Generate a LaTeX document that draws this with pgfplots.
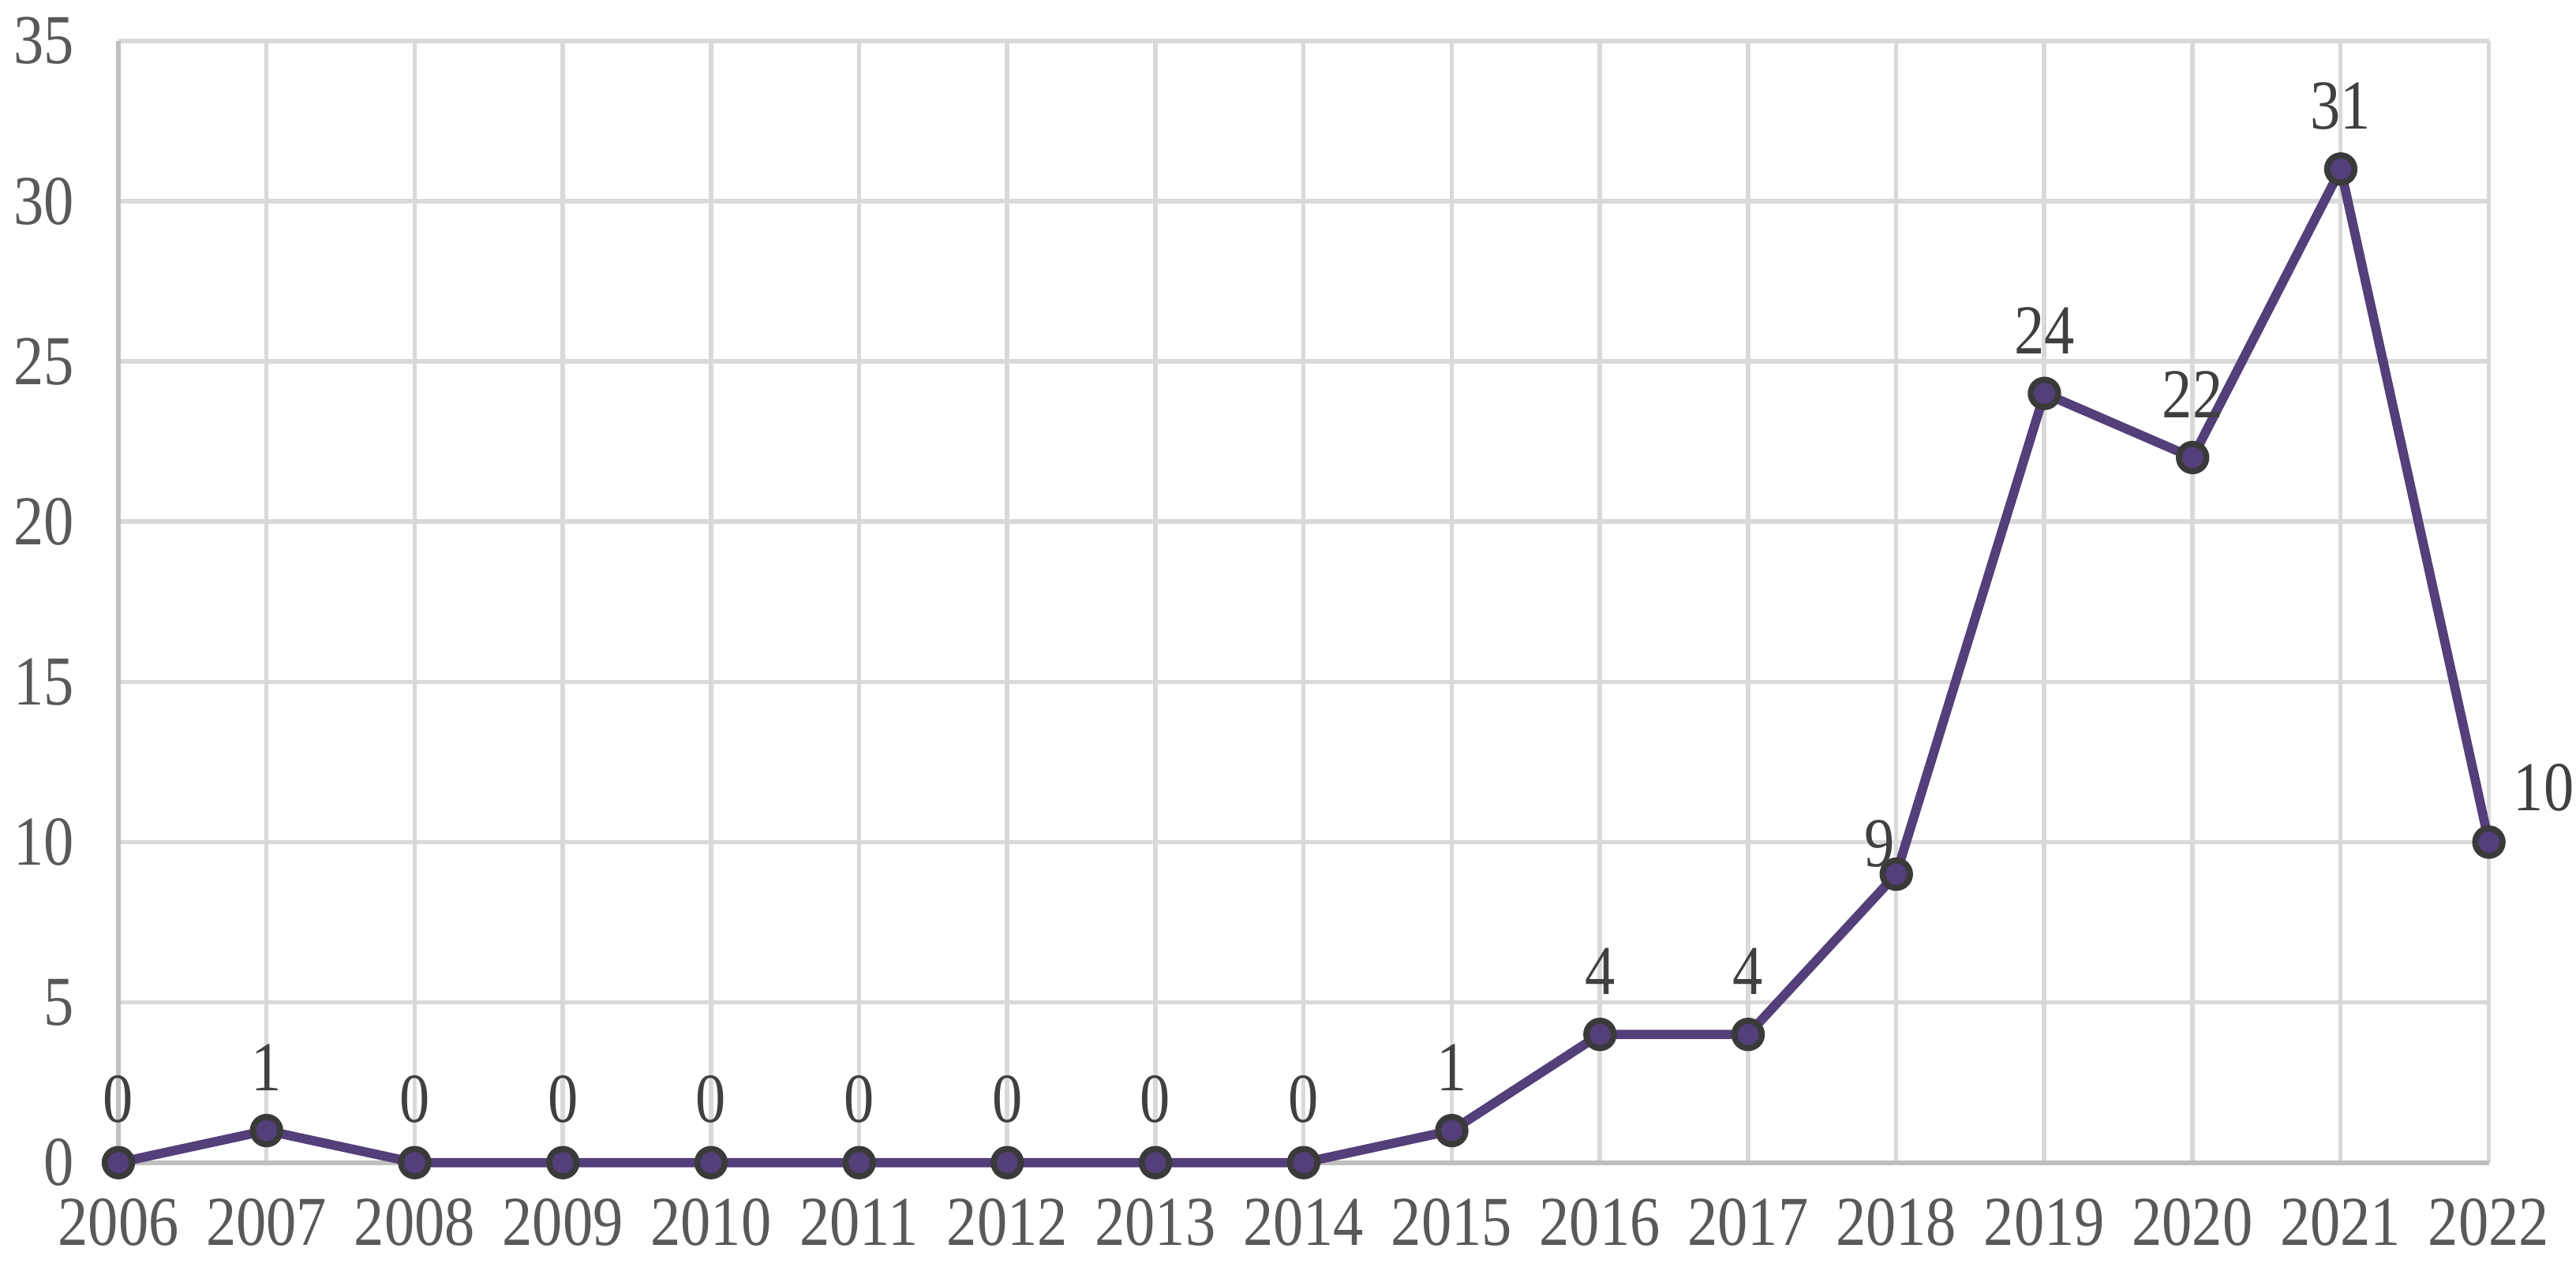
\documentclass[border=0pt]{standalone}
\usepackage{fontspec}
\setmainfont[FakeStretch=0.86]{Liberation Serif}
\usepackage{pgfplots}
\pgfplotsset{compat=1.18}
\definecolor{linec}{HTML}{533F79}
\definecolor{markc}{HTML}{3A3A3A}
\definecolor{gridc}{HTML}{D9D9D9}
\definecolor{axisc}{HTML}{BFBFBF}
\definecolor{labc}{HTML}{595959}
\definecolor{datac}{HTML}{404040}
\begin{document}
\begin{tikzpicture}
\useasboundingbox (-21.6pt,-19.0pt) rectangle (448.4pt,212.2pt);
\begin{axis}[
  scale only axis, width=432.5pt, height=204.75pt,
  xmin=2006, xmax=2022, ymin=0, ymax=35,
  xtick={2006,...,2022}, ytick={0,5,...,35},
  grid=major, major grid style={color=gridc, line width=0.8pt},
  axis lines*=left, axis line style={draw=axisc, line width=0.9pt, -},
  major tick length=0pt,
  tick label style={font=\fontsize{12.8}{14}\selectfont, text=labc},
  yticklabel style={xshift=-4.5pt},
  xticklabel style={yshift=-3pt},
  /pgf/number format/1000 sep={}, /pgf/number format/assume math mode=true,
  clip=false,
  nodes near coords,
  every node near coord/.append style={font=\fontsize{12.8}{14}\selectfont, text=datac, anchor=center, yshift=11.5pt},
  coordinate style/.condition={x==2022}{xshift=10pt, yshift=-1.5pt},
  coordinate style/.condition={x==2018}{xshift=-3pt, yshift=-6pt},
]
\addplot[color=linec, line width=1.7pt, mark=*, mark size=2.5pt,
  mark options={fill=linec, draw=markc, line width=1.1pt}]
  coordinates {
  (2006,0) (2007,1) (2008,0) (2009,0) (2010,0) (2011,0) (2012,0) (2013,0)
  (2014,0) (2015,1) (2016,4) (2017,4) (2018,9) (2019,24) (2020,22) (2021,31) (2022,10)
  };
\end{axis}
\end{tikzpicture}
\end{document}
